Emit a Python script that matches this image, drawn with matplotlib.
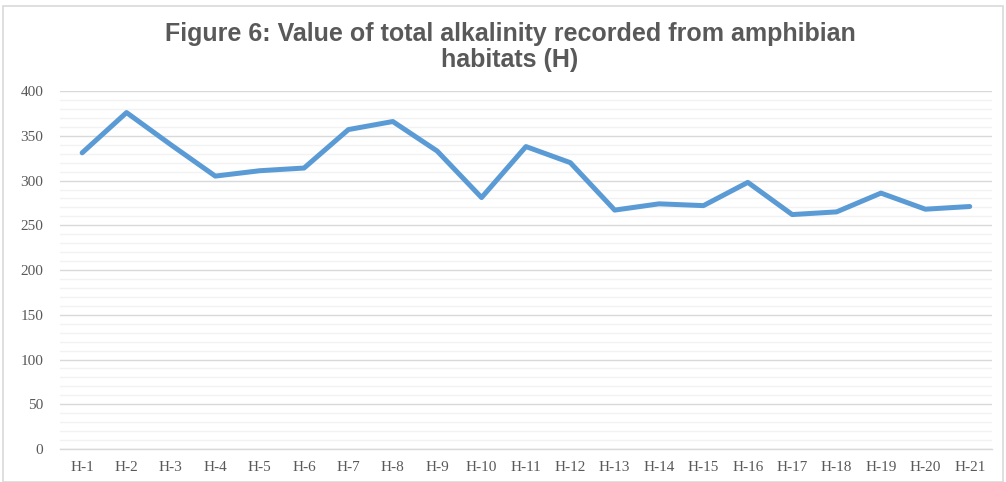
import matplotlib.pyplot as plt
import matplotlib.ticker as mticker
from matplotlib.patches import Rectangle

# hodnoty
habitaty = [f"H-{i}" for i in range(1, 22)]
alkalinita = [331, 376, 340, 305, 311, 314, 357, 366, 333, 281, 338,
              320, 267, 274, 272, 298, 262, 265, 286, 268, 271]

titulek = "Figure 6: Value of total alkalinity recorded from amphibian\nhabitats (H)"

fig = plt.figure(figsize=(10.06, 4.82), dpi=100)
ax = fig.add_axes([0.0596, 0.0685, 0.9264, 0.7425])

# rámeček kolem celého grafu
fig.patches.append(Rectangle((0.003, 0.0), 0.994, 0.988, transform=fig.transFigure,
                             fill=False, edgecolor="#D9D9D9", linewidth=1.2))

ax.plot(range(len(habitaty)), alkalinita, color="#5B9BD5", linewidth=3.6,
        solid_joinstyle="round", solid_capstyle="round", zorder=3)

ax.set_xlim(-0.5, len(habitaty) - 0.5)
ax.set_ylim(0, 400)
ax.set_xticks(range(len(habitaty)))
ax.set_xticklabels(habitaty)
ax.yaxis.set_major_locator(mticker.MultipleLocator(50))
ax.yaxis.set_minor_locator(mticker.MultipleLocator(10))

ax.grid(which="major", axis="y", color="#D9D9D9", linewidth=1.0, zorder=0)
ax.grid(which="minor", axis="y", color="#F2F2F2", linewidth=1.0, zorder=0)
ax.set_axisbelow(True)

for side in ["top", "right", "left"]:
    ax.spines[side].set_visible(False)
ax.spines["bottom"].set_color("#D9D9D9")
ax.spines["bottom"].set_linewidth(1.0)

ax.tick_params(axis="both", which="both", length=0, labelcolor="#595959",
               labelsize=11)
ax.tick_params(axis="y", pad=12)
ax.tick_params(axis="x", pad=9)
for lbl in ax.get_xticklabels() + ax.get_yticklabels():
    lbl.set_fontfamily("Liberation Serif")

fig.text(0.507, 0.902, titulek, ha="center", va="center", fontsize=18,
         fontweight="bold", color="#595959", family="Liberation Sans",
         linespacing=1.1)

plt.savefig("out.png", dpi=100)
